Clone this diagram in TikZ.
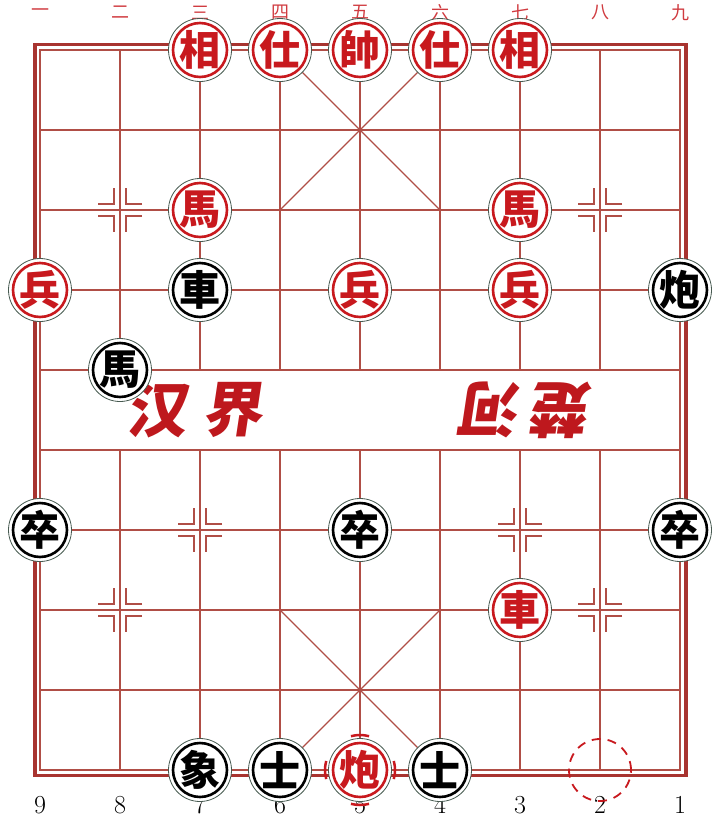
\documentclass[tikz,border=0pt]{standalone}
\usepackage{fontspec}
\usepackage{tikz}
\newfontfamily\cjk{Noto Sans CJK SC}
\definecolor{gridred}{RGB}{176, 78, 70}
\definecolor{framered}{RGB}{168, 52, 48}
\definecolor{piecered}{RGB}{200, 25, 30}
\definecolor{rim}{RGB}{70, 90, 80}

\tikzset{
  gridline/.style={gridred, line width=1.6pt},
  piece/.style={circle, draw=rim, line width=0.8pt, fill=white, minimum size=63pt,
    inner sep=0pt, text=#1, font=\cjk\bfseries\fontsize{41}{41}\selectfont,
    path picture={\draw[#1, line width=2.6pt] (path picture bounding box.center) circle (27pt);}},
  filelabel/.style={piecered!85, font=\cjk\fontsize{18}{18}\selectfont},
  ranklabel/.style={black, font=\fontsize{26}{26}\selectfont},
  rivertext/.style={piecered!95!black, font=\cjk\bfseries\fontsize{60}{60}\selectfont},
}

\begin{document}
\begin{tikzpicture}[x=80pt, y=-80pt]
    \useasboundingbox (-0.5,-0.625) rectangle (8.5,9.625);

    % Frame
    \draw[framered, line width=3.5pt] (-0.06,-0.07) rectangle (8.075,9.07);
    \draw[gridline] (0,0) rectangle (8,9);

    % Grid
    \foreach \r in {1,...,8} \draw[gridline] (0,\r) -- (8,\r);
    \foreach \c in {1,...,7} {
      \draw[gridline] (\c,0) -- (\c,4);
      \draw[gridline] (\c,5) -- (\c,9);
    }

    % Palaces
    \draw[gridline, line width=1.2pt] (3,0) -- (5,2) (5,0) -- (3,2);
    \draw[gridline, line width=1.2pt] (3,7) -- (5,9) (5,7) -- (3,9);

    % Position marks
    \foreach \p in {(1,2),(7,2),(2,6),(6,6),(1,7),(7,7)}
      \foreach \sx/\sy in {1/1,1/-1,-1/1,-1/-1}
        \draw[gridline, line width=1.4pt] \p ++(\sx*22pt,\sy*6pt) -- ++(-\sx*16pt,0) -- ++(0,\sy*16pt);

    % River
    \node[rivertext, xslant=0.15] (han) at (1.5,4.5) {汉};
    \node[rivertext, xslant=0.15] (jie) at (2.45,4.5) {界};
    \node[rivertext, rotate=180, xslant=0.15] (he) at (5.62,4.5) {河};
    \node[rivertext, rotate=180, xslant=0.15] (chu) at (6.5,4.5) {楚};

    % File labels
    \foreach \c/\t in {0/一,1/二,2/三,3/四,4/五,5/六,6/七,7/八,8/九}
      \node[filelabel] (top\c) at (\c,-0.47) {\t};
    \foreach \c/\t in {0/9,1/8,2/7,3/6,4/5,5/4,6/3,7/2,8/1}
      \node[ranklabel] (bot\c) at (\c,9.44) {\t};

    % Red pieces
    \node[piece=piecered] (r-xiang1) at (2,0) {相};
    \node[piece=piecered] (r-shi1) at (3,0) {仕};
    \node[piece=piecered] (r-shuai) at (4,0) {帥};
    \node[piece=piecered] (r-shi2) at (5,0) {仕};
    \node[piece=piecered] (r-xiang2) at (6,0) {相};
    \node[piece=piecered] (r-ma1) at (2,2) {馬};
    \node[piece=piecered] (r-ma2) at (6,2) {馬};
    \node[piece=piecered] (r-bing1) at (0,3) {兵};
    \node[piece=piecered] (r-bing2) at (4,3) {兵};
    \node[piece=piecered] (r-bing3) at (6,3) {兵};
    \node[piece=piecered] (r-che) at (6,7) {車};
    \node[piece=piecered] (r-pao) at (4,9) {炮};

    % Black pieces
    \node[piece=black] (b-che) at (2,3) {車};
    \node[piece=black] (b-pao) at (8,3) {炮};
    \node[piece=black] (b-ma) at (1,4) {馬};
    \node[piece=black] (b-zu1) at (0,6) {卒};
    \node[piece=black] (b-zu2) at (4,6) {卒};
    \node[piece=black] (b-zu3) at (8,6) {卒};
    \node[piece=black] (b-xiang) at (2,9) {象};
    \node[piece=black] (b-shi1) at (3,9) {士};
    \node[piece=black] (b-shi2) at (5,9) {士};

    % Selected piece and target
    \foreach \a/\b in {-15/15,75/105,165/195,255/285}
      \draw[piecered, line width=2.5pt] (r-pao.center) ++(\a:35pt) arc (\a:\b:35pt);
    \node[circle, draw=piecered, dashed, dash pattern=on 9pt off 7pt, line width=1.8pt,
      minimum size=62pt] (target) at (7,9) {};
\end{tikzpicture}
\end{document}
